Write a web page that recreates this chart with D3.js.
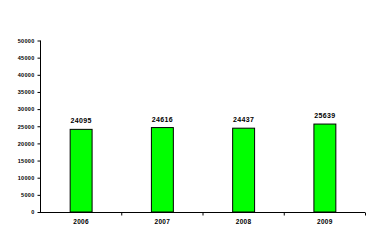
<!DOCTYPE html>
<html><head><meta charset="utf-8">
<script src="https://cdn.jsdelivr.net/npm/d3@7"></script>
<style>body{margin:0;background:#fff}svg{display:block}text{font-family:"Liberation Sans",Arial,sans-serif;font-weight:bold;fill:#000}</style>
</head><body>
<script>
const categories = ["2006", "2007", "2008", "2009"];
const values = [24095, 24616, 24437, 25639];
const yTicks = [0, 5000, 10000, 15000, 20000, 25000, 30000, 35000, 40000, 45000, 50000];

const W = 382, H = 242;
const m = {left: 40, right: 17, top: 40.5, bottom: 30};
const svg = d3.select("body").append("svg").attr("width", W).attr("height", H);
const x = d3.scaleBand().domain(categories).range([m.left, W - m.right]).paddingInner(0.73).paddingOuter(0.365);
const y = d3.scaleLinear().domain([0, 50000]).range([H - m.bottom, m.top]);

svg.selectAll("rect.bar").data(values).join("rect").attr("class", "bar")
  .attr("x", (d, i) => x(categories[i]) + 0.5).attr("width", x.bandwidth())
  .attr("y", d => y(d)).attr("height", d => y(0) - y(d))
  .attr("fill", "#00ff00").attr("stroke", "#000").attr("stroke-width", 1);

svg.selectAll("text.val").data(values).join("text").attr("class", "val")
  .attr("x", (d, i) => x(categories[i]) + x.bandwidth() / 2 + 0.5)
  .attr("y", d => y(d) - 6).attr("text-anchor", "middle")
  .style("font-size", "7px").style("letter-spacing", "0.4px").text(d => d);

// y axis
const ya = d3.axisLeft(y).tickValues(yTicks).tickSize(3).tickPadding(3).tickFormat(d3.format("d"));
const gy = svg.append("g").attr("transform", `translate(${m.left + 0.5},0)`).call(ya);
gy.selectAll("text").style("font-size", "5.5px").style("letter-spacing", "0.3px");
gy.select(".domain").attr("d", `M0,${y(50000)}V${y(0)}`);

// x axis
const xs = d3.scalePoint().domain([0,1,2,3,4]).range([m.left, W - m.right]);
const gx = svg.append("g").attr("transform", `translate(0,${y(0) + 0.5})`);
gx.append("line").attr("x1", m.left).attr("x2", W - m.right).attr("stroke", "#000");
gx.selectAll("line.t").data([1,2,3,4]).join("line").attr("class", "t")
  .attr("x1", d => xs(d) + 0.5).attr("x2", d => xs(d) + 0.5).attr("y1", 0).attr("y2", 3).attr("stroke", "#000");
gx.selectAll("text").data(categories).join("text")
  .attr("x", d => x(d) + x.bandwidth() / 2 + 0.5).attr("y", 11).attr("text-anchor", "middle")
  .style("font-size", "6.5px").style("letter-spacing", "0.3px").text(d => d);
</script>
</body></html>
